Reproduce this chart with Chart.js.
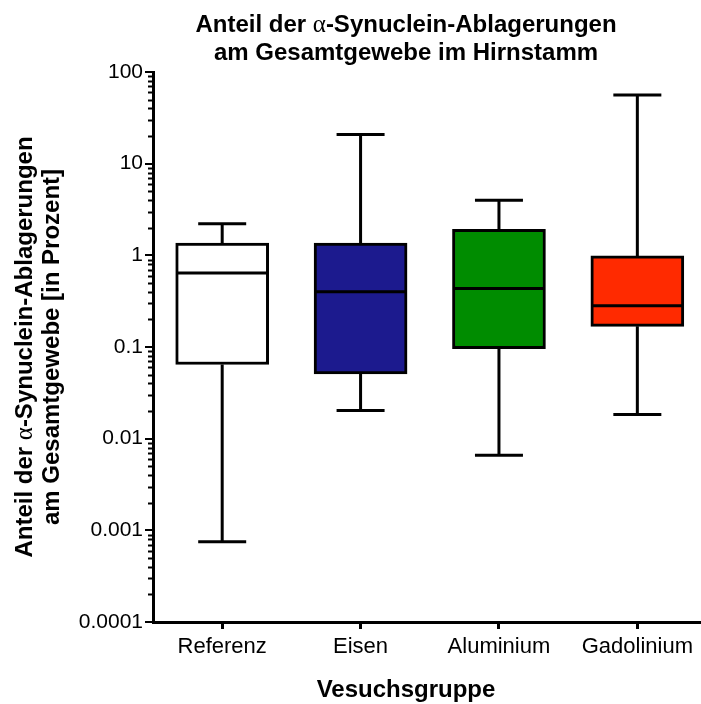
<!DOCTYPE html>
<html>
<head>
<meta charset="utf-8">
<script src="https://cdn.jsdelivr.net/npm/chart.js@4.4.1/dist/chart.umd.min.js"></script>
<style>
  html, body { margin: 0; padding: 0; background: #fff; }
  #wrap { width: 701px; height: 704px; }
</style>
</head>
<body>
<div id="wrap"><canvas id="boxChart"></canvas></div>
<script>
// values (percent, log axis)
const groups = ['Referenz', 'Eisen', 'Aluminium', 'Gadolinium'];
const whiskerMin = [0.00075, 0.0203, 0.0066, 0.0184];
const q1 = [0.0645, 0.051, 0.096, 0.168];
const median = [0.64, 0.40, 0.436, 0.281];
const q3 = [1.36, 1.36, 1.92, 0.985];
const whiskerMax = [2.21, 20.8, 4.0, 56];
const boxColors = ['#ffffff', '#1c1a8e', '#008c00', '#ff2a00'];
const yTicks = [0.0001, 0.001, 0.01, 0.1, 1, 10, 100];

const SANS = '"Liberation Sans", Arial, sans-serif';
const SERIF = '"Liberation Serif", "Times New Roman", serif';

// draw a line of text made of pieces with different fonts, centred on x
function drawParts(ctx, parts, x, y) {
    let total = 0;
    parts.forEach(p => { ctx.font = p.font; total += ctx.measureText(p.text).width; });
    let cx = x - total / 2;
    parts.forEach(p => {
        ctx.font = p.font;
        ctx.fillText(p.text, cx, y);
        cx += ctx.measureText(p.text).width;
    });
}

const boxPlugin = {
    id: 'boxPlugin',
    afterDatasetsDraw(chart) {
        const ctx = chart.ctx;
        const xs = chart.scales.x;
        const ys = chart.scales.y;
        const half = 46.5;
        const cap = 24;
        ctx.save();
        ctx.strokeStyle = '#000';
        ctx.lineWidth = 3;
        ctx.lineCap = 'butt';
        groups.forEach((g, i) => {
            const x = xs.getPixelForValue(i);
            const yMax = ys.getPixelForValue(whiskerMax[i]);
            const yMin = ys.getPixelForValue(whiskerMin[i]);
            const yQ1 = ys.getPixelForValue(q1[i]);
            const yQ3 = ys.getPixelForValue(q3[i]);
            const yMed = ys.getPixelForValue(median[i]);
            ctx.beginPath();
            ctx.moveTo(x, yQ3); ctx.lineTo(x, yMax);
            ctx.moveTo(x - cap, yMax); ctx.lineTo(x + cap, yMax);
            ctx.moveTo(x, yQ1); ctx.lineTo(x, yMin);
            ctx.moveTo(x - cap, yMin); ctx.lineTo(x + cap, yMin);
            ctx.moveTo(x - half + 1, yMed); ctx.lineTo(x + half - 1, yMed);
            ctx.stroke();
        });
        // minor ticks on the log axis
        ctx.lineWidth = 2;
        const left = chart.chartArea.left;
        ctx.beginPath();
        for (let d = 0; d < yTicks.length - 1; d++) {
            for (let k = 2; k <= 9; k++) {
                const y = Math.round(ys.getPixelForValue(k * yTicks[d])) + 0.5;
                ctx.moveTo(left - 5, y); ctx.lineTo(left, y);
            }
        }
        ctx.stroke();
        ctx.restore();
    },
    afterDraw(chart) {
        const ctx = chart.ctx;
        ctx.save();
        ctx.fillStyle = '#000';
        ctx.textBaseline = 'alphabetic';
        const bold = 'bold 24px ' + SANS;
        const greek = '25px ' + SERIF;
        drawParts(ctx, [
            { text: 'Anteil der ', font: bold },
            { text: 'α', font: greek },
            { text: '-Synuclein-Ablagerungen', font: bold }
        ], 406, 32);
        drawParts(ctx, [{ text: 'am Gesamtgewebe im Hirnstamm', font: bold }], 406, 60);
        drawParts(ctx, [{ text: 'Vesuchsgruppe', font: bold }], 406, 697);

        const ys = chart.scales.y;
        const cy = (ys.top + ys.bottom) / 2;
        ctx.translate(0, cy);
        ctx.rotate(-Math.PI / 2);
        drawParts(ctx, [
            { text: 'Anteil der ', font: bold },
            { text: 'α', font: greek },
            { text: '-Synuclein-Ablagerungen', font: bold }
        ], 0, 32);
        drawParts(ctx, [{ text: 'am Gesamtgewebe [in Prozent]', font: bold }], 0, 59);
        ctx.restore();
    }
};

const ctx = document.getElementById('boxChart').getContext('2d');
new Chart(ctx, {
    type: 'bar',
    data: {
        datasets: [{
            data: groups.map((g, i) => ({ x: i, y: [q1[i], q3[i]] })),
            backgroundColor: boxColors,
            borderColor: '#000',
            borderWidth: 3,
            borderSkipped: false,
            barThickness: 93
        }]
    },
    options: {
        responsive: true,
        maintainAspectRatio: false,
        animation: false,
        layout: { padding: { top: 72, right: 0, bottom: 0, left: 0 } },
        plugins: {
            legend: { display: false },
            tooltip: { enabled: false },
            title: { display: false }
        },
        scales: {
            x: {
                type: 'linear',
                offset: false,
                min: -0.5,
                max: 3.46,
                afterBuildTicks: s => { s.ticks = groups.map((g, i) => ({ value: i })); },
                afterFit: s => { s.height = 82; },
                ticks: {
                    callback: v => groups[v],
                    color: '#000',
                    font: { family: SANS, size: 22 },
                    padding: 5,
                    autoSkip: false,
                    maxRotation: 0
                },
                grid: { offset: false, drawOnChartArea: false, tickLength: 7, color: '#000', lineWidth: 3 },
                border: { color: '#000', width: 3 }
            },
            y: {
                type: 'logarithmic',
                min: 0.0001,
                max: 100,
                afterBuildTicks: s => { s.ticks = yTicks.map(v => ({ value: v })); },
                afterFit: s => { s.width = 153; },
                ticks: {
                    callback: v => String(v),
                    color: '#000',
                    font: { family: SANS, size: 21 },
                    padding: 2
                },
                grid: { drawOnChartArea: false, tickLength: 8, color: '#000', lineWidth: 2 },
                border: { color: '#000', width: 3 }
            }
        }
    },
    plugins: [boxPlugin]
});
</script>
</body>
</html>
